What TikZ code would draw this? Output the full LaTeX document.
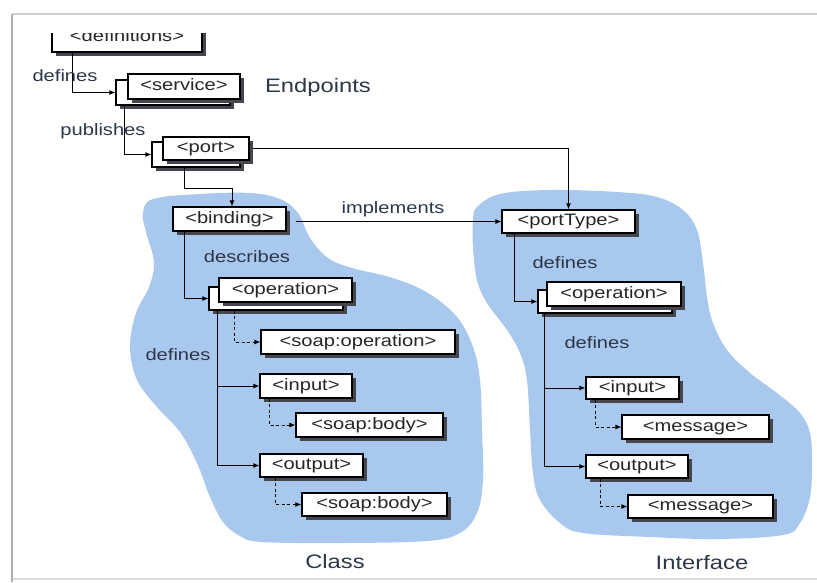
\documentclass[tikz,border=0pt]{standalone}
\usepackage{fontspec}
\setmainfont[FakeStretch=1.22]{Liberation Sans}
\usetikzlibrary{arrows.meta,shadows}
\definecolor{blobblue}{RGB}{168,200,238}
\definecolor{lbltext}{RGB}{45,55,72}
\definecolor{shadegray}{RGB}{70,70,78}
\definecolor{framegray}{RGB}{175,175,175}

\begin{document}
\begin{tikzpicture}[x=1pt,y=-1pt,
  el/.style={draw=black,line width=1.2pt,fill=white,inner sep=0pt,
    font=\fontsize{16.5}{19}\selectfont,text=black!85,
    text height=11.9pt,text depth=3.5pt,
    drop shadow={shadow xshift=3.5pt,shadow yshift=-3.5pt,fill=shadegray,opacity=1}},
  lbl/.style={font=\fontsize{16.5}{19}\selectfont,text=lbltext,inner sep=0pt},
  grouptitle/.style={font=\fontsize{19.5}{22}\selectfont,text=lbltext,inner sep=0pt},
  link/.style={line width=0.9pt,-{Latex[length=6pt,width=5pt]}},
  dlink/.style={link,dash pattern=on 3pt off 2.5pt},
  region/.style={fill=blobblue,draw=none},
]
\useasboundingbox (0,0) rectangle (817,582);
\fill[white] (0,0) rectangle (817,582);

% page frame
\draw[framegray!60,line width=1.5pt] (12,14) -- (817,14);
\draw[framegray,line width=2pt] (12,14) -- (12,582);
\draw[framegray!45,line width=1.2pt] (13,579) -- (817,579);

% shaded regions
\path[region] plot[smooth cycle,tension=0.6] coordinates {
  (153,199) (200,194) (250,193) (280,199) (298,213) (310,238) (328,258)
  (352,268) (393,278) (428,293) (457,317) (473,347) (480,380) (482,430)
  (483,480) (477,513) (460,533) (427,541) (343,543) (262,542) (240,536)
  (223,522) (210,497) (197,463) (180,432) (157,407) (137,380) (130,347)
  (136,313) (149,287) (154,262) (146,232) (143,213)};
\path[region] plot[smooth cycle,tension=0.6] coordinates {
  (477,207) (500,194) (550,190) (617,192) (657,197) (683,210) (697,230)
  (703,263) (707,297) (713,323) (727,350) (750,373) (777,393) (800,413)
  (810,433) (812,463) (810,497) (800,523) (783,535) (717,539) (650,537)
  (583,533) (560,523) (540,500) (533,473) (530,430) (527,380) (520,353)
  (507,330) (487,303) (477,280) (473,247) (473,220)};

% elements
\begin{scope}
  \clip (0,33) rectangle (817,70);
  \node[el,minimum width=150pt,minimum height=30pt] (defs) at (127,37) {<definitions>};
\end{scope}

\node[el,minimum width=114pt,minimum height=25pt] (servback) at (173,92.5) {};
\node[el,minimum width=112pt,minimum height=25pt] (service) at (184,86.5) {<service>};
\node[el,minimum width=88pt,minimum height=25pt] (portback) at (196,154.5) {};
\node[el,minimum width=86pt,minimum height=23pt] (port) at (206,148.5) {<port>};

\node[el,minimum width=113pt,minimum height=24pt] (binding) at (229.5,219) {<binding>};
\node[el,minimum width=133pt,minimum height=23pt] (porttype) at (568.5,221.5) {<portType>};

\node[el,minimum width=134pt,minimum height=23pt] (opcback) at (276,298.5) {};
\node[el,minimum width=133pt,minimum height=24pt] (opc) at (285.5,290) {<operation>};
\node[el,minimum width=194pt,minimum height=24pt] (soapop) at (358,342) {<soap:operation>};
\node[el,minimum width=92pt,minimum height=24pt] (inputc) at (306,386) {<input>};
\node[el,minimum width=147pt,minimum height=24pt] (bodyin) at (369.5,425) {<soap:body>};
\node[el,minimum width=103pt,minimum height=23pt] (outputc) at (311.5,465.5) {<output>};
\node[el,minimum width=145pt,minimum height=23pt] (bodyout) at (374.5,504.5) {<soap:body>};

\node[el,minimum width=134pt,minimum height=23pt] (opiback) at (605,301.5) {};
\node[el,minimum width=134pt,minimum height=24pt] (opi) at (614,294) {<operation>};
\node[el,minimum width=93pt,minimum height=22pt] (inputi) at (632.5,388) {<input>};
\node[el,minimum width=147pt,minimum height=24pt] (msgin) at (695.5,427) {<message>};
\node[el,minimum width=102pt,minimum height=23pt] (outputi) at (637,466.5) {<output>};
\node[el,minimum width=145pt,minimum height=23pt] (msgout) at (700.5,506.5) {<message>};

% connectors
\draw[link] ([xshift=21pt]defs.south west) |- (servback.west);
\draw[link] ([xshift=9pt]servback.south west) |- (portback.west);
\draw[link] ([xshift=3.5pt]port.east) -| (porttype.north);
\draw[link] ([xshift=33pt]portback.south west) -- ++(0,21) -| ([xshift=2.5pt]binding.north);
\draw[link] ([xshift=9pt,yshift=-2.5pt]binding.east) -- (porttype.west);

\draw[link] ([xshift=12pt]binding.south west) |- (opcback.west);
\draw[dlink] ([xshift=26pt]opcback.south west) |- (soapop.west);
\draw[link] ([xshift=9pt]opcback.south west) |- (inputc.west);
\draw[link] ([xshift=9pt]opcback.south west) |- (outputc.west);
\draw[dlink] ([xshift=10pt]inputc.south west) |- (bodyin.west);
\draw[dlink] ([xshift=16pt]outputc.south west) |- (bodyout.west);

\draw[link] ([xshift=13pt]porttype.south west) |- (opiback.west);
\draw[link] ([xshift=7pt]opiback.south west) |- (inputi.west);
\draw[link] ([xshift=7pt]opiback.south west) |- (outputi.west);
\draw[dlink] ([xshift=10pt]inputi.south west) |- (msgin.west);
\draw[dlink] ([xshift=15pt]outputi.south west) |- (msgout.west);

% relation labels
\node[lbl] (ldef0) at (65,76) {defines};
\node[lbl] (lpub) at (103,131) {publishes};
\node[lbl] (limpl) at (393,209) {implements};
\node[lbl] (ldesc) at (247,257) {describes};
\node[lbl] (ldefc) at (178,355) {defines};
\node[lbl] (ldefi1) at (565,263) {defines};
\node[lbl] (ldefi2) at (597,343) {defines};

% group captions
\node[grouptitle] (endpoints) at (318,87) {Endpoints};
\node[grouptitle] (classcap) at (335,562) {Class};
\node[grouptitle] (ifacecap) at (702,563) {Interface};
\end{tikzpicture}
\end{document}
